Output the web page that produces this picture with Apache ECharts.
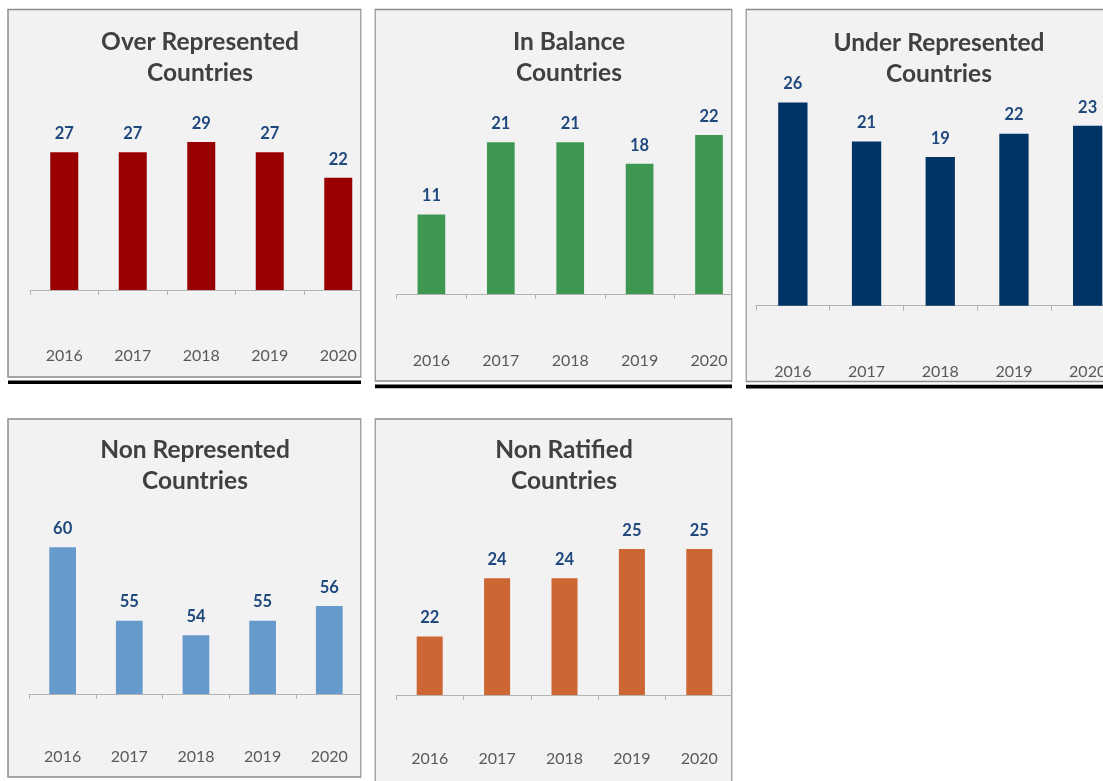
<!DOCTYPE html>
<html>
<head>
<meta charset="utf-8">
<script src="https://cdn.jsdelivr.net/npm/echarts@6/dist/echarts.min.js"></script>
<style>
html,body{margin:0;padding:0;background:#ffffff;}
#chart{width:1103px;height:781px;}
</style>
</head>
<body>
<div id="chart"></div>
<script>
// ---- data ----
const years = ['2016', '2017', '2018', '2019', '2020'];
const overRepresented = [27, 27, 29, 27, 22];
const inBalance = [11, 21, 21, 18, 22];
const underRepresented = [26, 21, 19, 22, 23];
const nonRepresented = [60, 55, 54, 55, 56];
const nonRatified = [22, 24, 24, 25, 25];
const titles = ['Over Represented\nCountries', 'In Balance\nCountries', 'Under Represented\nCountries', 'Non Represented\nCountries', 'Non Ratified\nCountries'];

// ---- layout / style ----
const FONT = 'Lato, "Open Sans", sans-serif';
const panels = [
  {data: overRepresented, color: '#990000', box: [8, 9.5, 353, 367.5], grid: {left: 30, top: 111.5, width: 342.5, height: 178.5}, min: 0, max: 35, barW: 28, tx: 200, ty: 26.5, margin: 58, rule: [8, 380.5, 353, 3.6]},
  {data: inBalance, color: '#3f9852', box: [375, 9.5, 357, 371.5], grid: {left: 396.7, top: 113.25, width: 347, height: 180.75}, min: 0, max: 25, barW: 27.7, tx: 569, ty: 26.5, margin: 58.5, rule: [375, 384.5, 357, 3.8]},
  {data: underRepresented, color: '#003366', box: [746, 9.5, 360, 372], grid: {left: 756, top: 71.1, width: 368.5, height: 234.6}, min: 0, max: 30, barW: 29.3, tx: 939, ty: 27.5, margin: 58, rule: [746, 384.8, 357, 3.6]},
  {data: nonRepresented, color: '#6699cc', box: [8, 419, 353, 358], grid: {left: 29.3, top: 518, width: 333.3, height: 176}, min: 50, max: 62, barW: 26.7, tx: 195, ty: 434.5, margin: 55, rule: null},
  {data: nonRatified, color: '#cc6633', box: [375, 419, 357, 366], grid: {left: 396, top: 519.8, width: 337, height: 175.2}, min: 20, max: 26, barW: 26, tx: 564, ty: 435, margin: 55.5, rule: null}
];

const option = {
  animation: false,
  backgroundColor: '#ffffff',
  title: [], grid: [], xAxis: [], yAxis: [], series: [],
  graphic: []
};

panels.forEach((p, i) => {
  option.graphic.push({
    type: 'rect', z: -10,
    shape: {x: p.box[0], y: p.box[1], width: p.box[2], height: p.box[3]},
    style: {fill: '#f2f2f2', stroke: '#8c8c8c', lineWidth: 1.5}
  });
  if (p.rule) {
    option.graphic.push({
      type: 'rect', z: 100,
      shape: {x: p.rule[0], y: p.rule[1], width: p.rule[2], height: p.rule[3]},
      style: {fill: '#000000'}
    });
  }
  option.title.push({
    text: titles[i], left: p.tx, top: p.ty, textAlign: 'center', padding: 0,
    textStyle: {fontFamily: FONT, fontSize: 24.5, fontWeight: 'bold', color: '#404040', lineHeight: 31}
  });
  option.grid.push(Object.assign({containLabel: false, outerBoundsMode: 'none'}, p.grid));
  option.xAxis.push({
    type: 'category', gridIndex: i, data: years,
    axisLine: {lineStyle: {color: '#b3b3b3', width: 1.2}},
    axisTick: {show: true, length: 5, lineStyle: {color: '#b3b3b3'}},
    axisLabel: {margin: p.margin, fontFamily: FONT, fontSize: 16, color: '#595959', hideOverlap: false}
  });
  option.yAxis.push({
    type: 'value', gridIndex: i, min: p.min, max: p.max,
    show: false, splitLine: {show: false}
  });
  option.series.push({
    type: 'bar', xAxisIndex: i, yAxisIndex: i, data: p.data,
    barWidth: p.barW,
    itemStyle: {color: p.color},
    label: {show: true, position: 'top', distance: 10, fontFamily: FONT, fontSize: 16.5, fontWeight: 'bold', color: '#1f497d'}
  });
});

// white masks for the gaps between cut-off panels
[[361.5, 0, 13, 400], [732.5, 0, 13, 400], [361.5, 400, 13, 381], [732.5, 400, 371, 381]].forEach(r => {
  option.graphic.push({type: 'rect', z: 90, shape: {x: r[0], y: r[1], width: r[2], height: r[3]}, style: {fill: '#ffffff'}});
});

const chart = echarts.init(document.getElementById('chart'), null, {renderer: 'canvas'});
chart.setOption(option);
</script>
</body>
</html>
